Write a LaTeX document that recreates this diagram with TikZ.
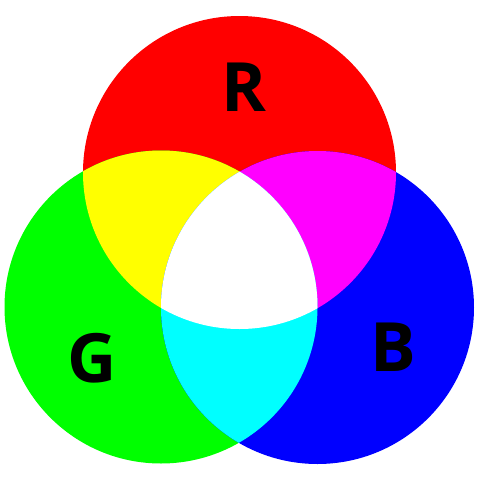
\documentclass[tikz,border=0pt]{standalone}
\usepackage{fontspec}
\setmainfont{Open Sans}
\usetikzlibrary{calc}
\definecolor{vermelho}{RGB}{255,0,0}
\definecolor{verde}{RGB}{0,255,0}
\definecolor{azul}{RGB}{0,0,255}
\definecolor{amarelo}{RGB}{255,255,0}
\definecolor{magenta2}{RGB}{255,0,255}
\definecolor{ciano}{RGB}{0,255,255}
\tikzset{letra/.style={inner sep=0pt,font=\fontsize{68}{68}\selectfont\bfseries}}

\begin{document}
\begin{tikzpicture}[x=1pt,y=-1pt]
\useasboundingbox (0,0) rectangle (480,480);
\coordinate (R) at (239.5,172.5); \coordinate (G) at (161,307); \coordinate (B) at (317.5,307.5);
\def\raio{156.5}
\fill[vermelho] (R) circle (\raio);
\fill[verde] (G) circle (\raio);
\fill[azul] (B) circle (\raio);
\begin{scope} \clip (R) circle (\raio); \fill[amarelo] (G) circle (\raio); \end{scope}
\begin{scope} \clip (R) circle (\raio); \fill[magenta2] (B) circle (\raio); \end{scope}
\begin{scope} \clip (G) circle (\raio); \fill[ciano] (B) circle (\raio); \end{scope}
\begin{scope} \clip (R) circle (\raio); \clip (G) circle (\raio); \fill[white] (B) circle (\raio); \end{scope}
\node[letra] (lR) at (244,87.5) {R};
\node[letra] (lG) at (92.5,358.5) {G};
\node[letra] (lB) at (393,347.5) {B};
\end{tikzpicture}
\end{document}
